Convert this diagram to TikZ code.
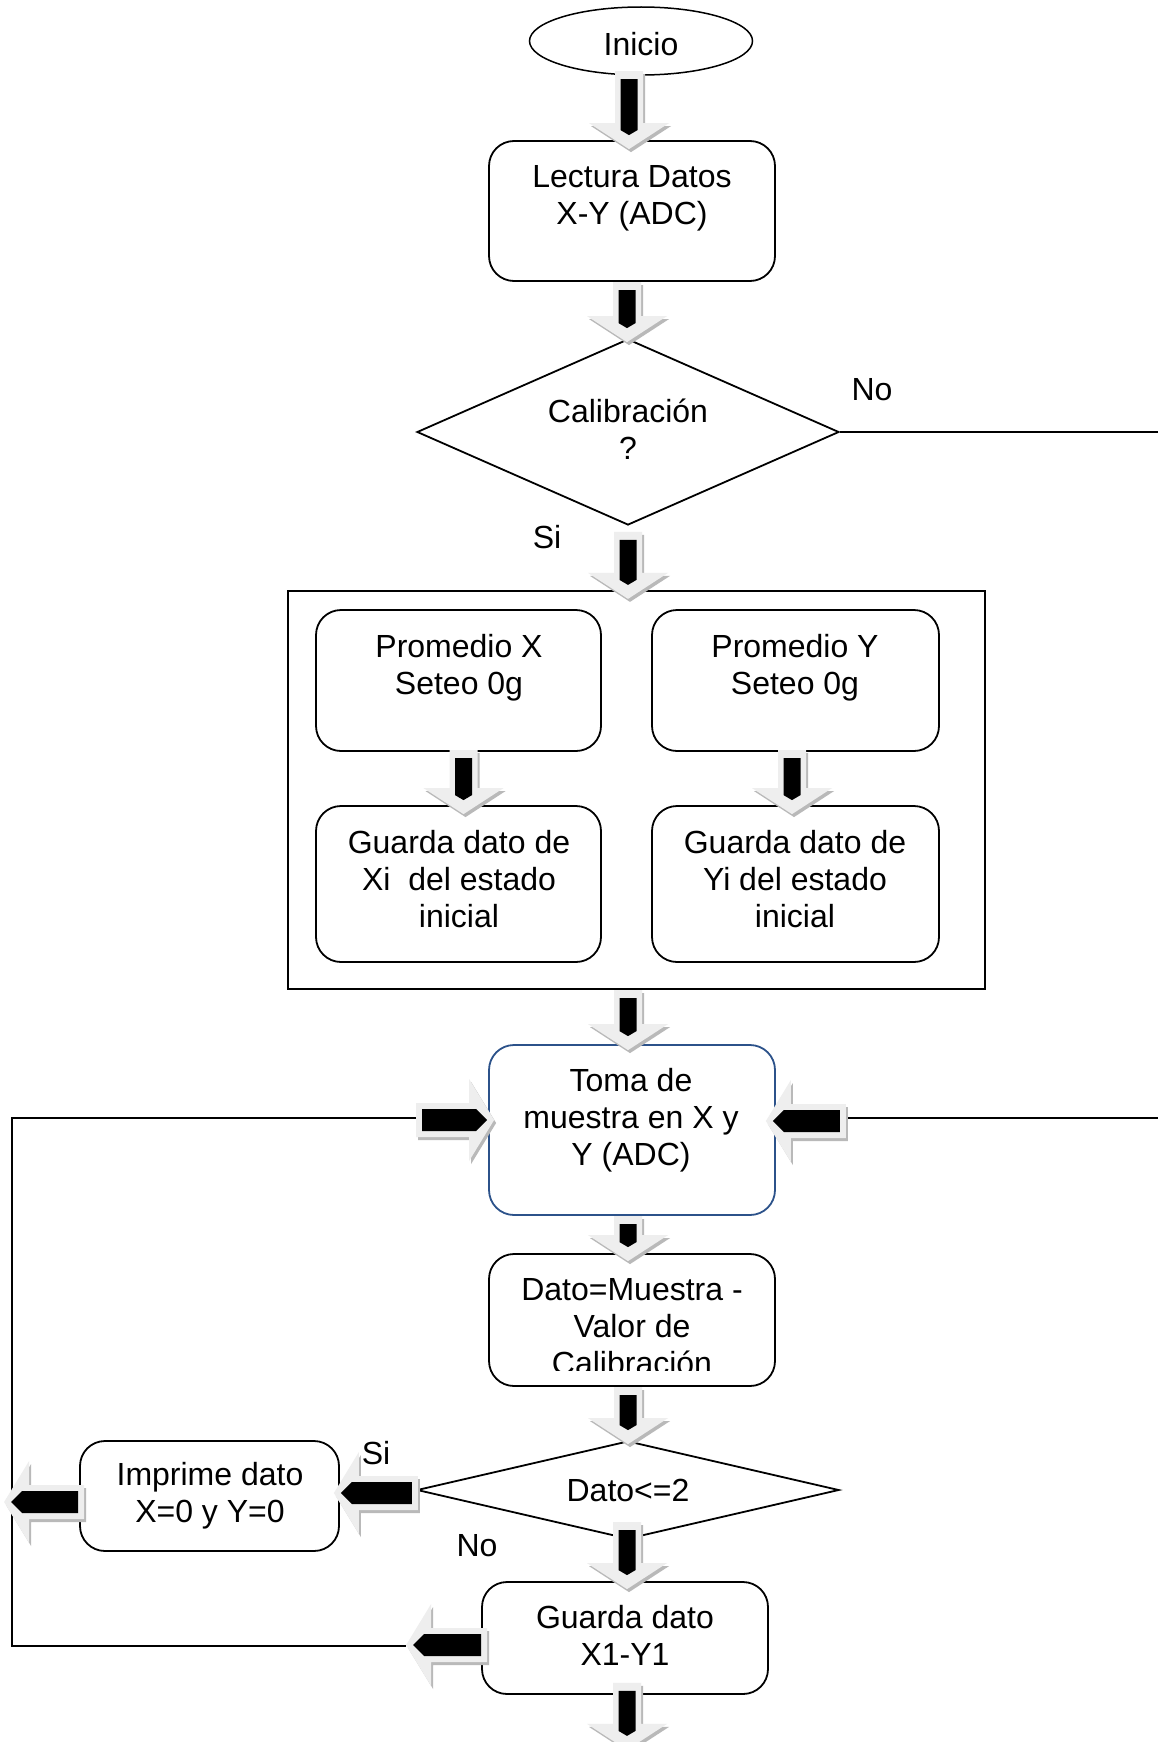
\documentclass[tikz,border=0pt]{standalone}
\usepackage{fontspec}
\setmainfont{Liberation Sans}
\usetikzlibrary{shapes.geometric,calc}
\definecolor{tomablue}{RGB}{44,82,138}
\definecolor{arrbody}{RGB}{238,238,238}
\definecolor{arrshade}{RGB}{185,185,185}
\tikzset{
  box/.style={draw, line width=1.8pt, rounded corners=25pt, inner sep=0pt},
  txt/.style={align=center, font=\fontsize{32}{37}\selectfont, inner sep=0pt},
  dia/.style={draw, diamond, line width=1.8pt, inner sep=0pt},
  flow/.style={line width=1.8pt},
  darrow/.pic={
    \fill[arrshade, shift={(2,3)}] (-14,-#1) -- (14,-#1) -- (14,-26) -- (40,-26) -- (0,0) -- (-40,-26) -- (-14,-26) -- cycle;
    \fill[arrbody] (-14,-#1) -- (14,-#1) -- (14,-26) -- (40,-26) -- (0,0) -- (-40,-26) -- (-14,-26) -- cycle;
    \fill[black] (-8.5,8-#1) -- (8.5,8-#1) -- (8.5,-19) -- (0,-14) -- (-8.5,-19) -- cycle;
  },
  rarrow/.pic={
    \fill[arrshade, shift={(2,3)}] (-#1,-17) -- (-25,-17) -- (-25,-41) -- (0,0) -- (-25,41) -- (-25,17) -- (-#1,17) -- cycle;
    \fill[arrbody] (-#1,-17) -- (-25,-17) -- (-25,-41) -- (0,0) -- (-25,41) -- (-25,17) -- (-#1,17) -- cycle;
    \fill[black] (6-#1,-11) -- (-18,-11) -- (-7,0) -- (-18,11) -- (6-#1,11) -- cycle;
  },
  larrow/.pic={
    \fill[arrshade, shift={(2,3)}] (#1,-17) -- (25,-17) -- (25,-41) -- (0,0) -- (25,41) -- (25,17) -- (#1,17) -- cycle;
    \fill[arrbody] (#1,-17) -- (25,-17) -- (25,-41) -- (0,0) -- (25,41) -- (25,17) -- (#1,17) -- cycle;
    \fill[black] (#1-6,-11) -- (18,-11) -- (7,0) -- (18,11) -- (#1-6,11) -- cycle;
  }
}
\begin{document}
\begin{tikzpicture}[x=1pt,y=-1pt]
\useasboundingbox (0,0) rectangle (1158,1742);
\clip (0,0) rectangle (1158,1742);
\fill[white] (0,0) rectangle (1158,1742);

% nodes
\node[draw, ellipse, line width=1.5pt, minimum width=223pt, minimum height=68pt, inner sep=0pt] (inicio) at (641,41) {};
\node[txt] (inicioT) at (641,44.5) {Inicio};

\node[box, minimum width=286pt, minimum height=140pt] (lect) at (632,211) {};
\node[txt] (lectT) at (632,198.5) {Lectura Datos\\X-Y (ADC)};

\node[dia, minimum width=422pt, minimum height=186pt] (calib) at (628,432) {};
\node[txt] (calibT) at (628,429) {Calibración\\?};

\node[draw, line width=1.8pt, minimum width=697pt, minimum height=398pt, inner sep=0pt] (cont) at (636.5,790) {};

\node[box, minimum width=285pt, minimum height=141pt] (px) at (458.5,680.5) {};
\node[txt] (pxT) at (459,668) {Promedio X\\Seteo 0g};
\node[box, minimum width=287pt, minimum height=141pt] (py) at (795.5,680.5) {};
\node[txt] (pyT) at (795,668) {Promedio Y\\Seteo 0g};

\node[box, minimum width=285pt, minimum height=156pt] (gx) at (458.5,884) {};
\node[txt] (gxT) at (459,879) {Guarda dato de\\Xi~ del estado\\inicial};
\node[box, minimum width=287pt, minimum height=156pt] (gy) at (795.5,884) {};
\node[txt] (gyT) at (795,879) {Guarda dato de\\Yi del estado\\inicial};

\node[box, draw=tomablue, minimum width=286pt, minimum height=170pt] (toma) at (632,1130) {};
\node[txt] (tomaT) at (631,1120) {Toma de\\muestra en X y\\Y (ADC)};

\node[box, minimum width=286pt, minimum height=132pt] (dato) at (632,1320) {};
\begin{scope}
\clip (dato.north west) rectangle ($(dato.south east)+(0,-16)$);
\node[txt] (datoT) at (632,1327) {Dato=Muestra -\\Valor de\\Calibración};
\end{scope}

\node[dia, minimum width=422pt, minimum height=98pt] (dato2) at (628,1490) {};
\node[txt] (dato2T) at (628,1490) {Dato<=2};

\node[box, minimum width=259pt, minimum height=110pt] (imp) at (209.5,1496) {};
\node[txt] (impT) at (210,1496) {Imprime dato\\X=0 y Y=0};

\node[box, minimum width=286pt, minimum height=112pt] (gxy) at (625,1638) {};
\node[txt] (gxyT) at (625,1635) {Guarda dato\\X1-Y1};

% labels
\node[txt] (noA) at (872,390) {No};
\node[txt] (siA) at (547,537) {Si};
\node[txt] (siB) at (376,1453) {Si};
\node[txt] (noB) at (477,1546) {No};

% thin connectors
\coordinate (noEnd) at ($(calib.east)+(330,0)$);
\draw[flow] (calib.east) -- (noEnd);
\coordinate (rlA) at ($(toma.east)+(70,-12)$);
\coordinate (rlB) at ($(rlA)+(330,0)$);
\draw[flow] (rlA) -- (rlB);
\coordinate (llA) at ($(gxy.west)+(-75,8)$);
\coordinate (llCorner) at (12,1646);
\coordinate (llC) at ($(toma.west)+(-72,-12)$);
\draw[flow] (llA) -- (llCorner) |- (llC);

% block arrows
\pic at ($(lect.north)+(-3,9)$) {darrow=78};
\pic at ($(calib.north)+(-1,4)$) {darrow=60};
\pic at ($(calib.south)+(0,73)$) {darrow=67};
\pic at ($(gx.north)+(5,9)$) {darrow=64};
\pic at ($(gy.north)+(-3.5,9)$) {darrow=64};
\pic at ($(toma.north)+(-4,6)$) {darrow=60};
\pic at ($(dato.north)+(-4,8)$) {darrow=45};
\pic at ($(dato2.north)+(0,4)$) {darrow=57};
\pic at ($(gxy.north)+(2,8)$) {darrow=67};
\pic at ($(gxy.south)+(2,55)$) {darrow=67};

\pic at ($(toma.west)+(6,-10)$) {rarrow=78};
\pic at ($(toma.east)+(-10,-9)$) {larrow=80};
\pic at ($(imp.east)+(-6,-3)$) {larrow=84};
\pic at ($(imp.west)+(-75,6)$) {larrow=80};
\pic at ($(gxy.west)+(-75,7)$) {larrow=81};
\end{tikzpicture}
\end{document}
